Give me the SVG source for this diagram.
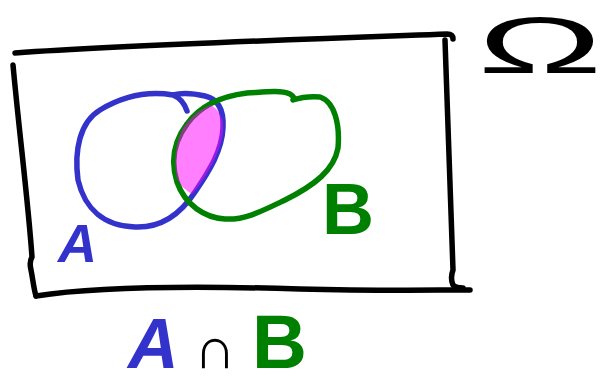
<svg xmlns="http://www.w3.org/2000/svg" width="608" height="386" viewBox="0 0 608 386">
<style>
.s{fill:none;stroke-linecap:round;stroke-linejoin:round;stroke-width:5.5}
.k{stroke:#000}
.b{stroke:#3333cc}
.g{stroke:#008000}
.t{font-family:"Liberation Sans",Arial,sans-serif}
</style>
<rect width="608" height="386" fill="#fff"/>
<g id="omega-box">
<path class="s k" d="M15,53 C130,45 280,40 447,34 Q453,34 453,39"/>
<path class="s k" d="M445,40 C448,120 450,200 453,270 Q450,278 453,285 Q456,288 463,288"/>
<path class="s k" d="M36,296 C100,286 200,286 300,289 C380,291 430,290 470,290"/>
<path class="s k" d="M13,65 C20,140 28,200 32,257 Q29,262 31,270 C33,280 34,290 36,296"/>
</g>
<g id="setA">
<path class="s b" d="M187,111 Q183,99 173,95 C155,92 130,92 100,110 C80,122 74,150 78,180 C85,210 105,226 135,227 C160,228 180,215 195,192 C210,170 222,150 223,128 C224,110 218,99 205,96 C192,93 180,93 173,95"/>
</g>
<g id="setB">
<path class="s g" d="M247,93 C265,92 280,90 290,94 Q296,98 293,100 Q305,96 320,97 C335,102 340,125 338,148 C334,170 315,185 285,200 C260,212 245,220 225,219 C205,218 185,205 177,182 C170,160 175,140 187,124 C197,110 215,97 247,93"/>
</g>
<g id="intersection">
<path d="M211,105 C219,110 224,118 223,130 C222,145 215,160 206,175 C201,183 197,188 192,194 C185,190 180,185 177,178 C174,162 175,145 182,130 C189,118 199,110 211,105 Z" fill="#ff00ff" fill-opacity="0.5"/>
</g>
<g id="labelA">
<text class="t" x="58" y="262" font-size="54" fill="#3333cc" font-style="italic" font-weight="bold">A</text>
</g>
<g id="labelB">
<text class="t" x="322" y="234" font-size="72" fill="#008000" font-weight="bold">B</text>
</g>
<g id="labelOmega">
<text class="t" x="0" y="0" font-size="76" fill="#000" text-anchor="middle" transform="translate(540,73) scale(2.2,1.05)">Ω</text>
</g>
<g id="caption">
<text class="t" y="368" font-weight="bold"><tspan x="128" fill="#3333cc" font-style="italic" font-size="70">A</tspan><tspan x="194" fill="#000" font-size="58">∩</tspan><tspan x="252" fill="#008000" font-size="76">B</tspan></text>
</g>
</svg>
